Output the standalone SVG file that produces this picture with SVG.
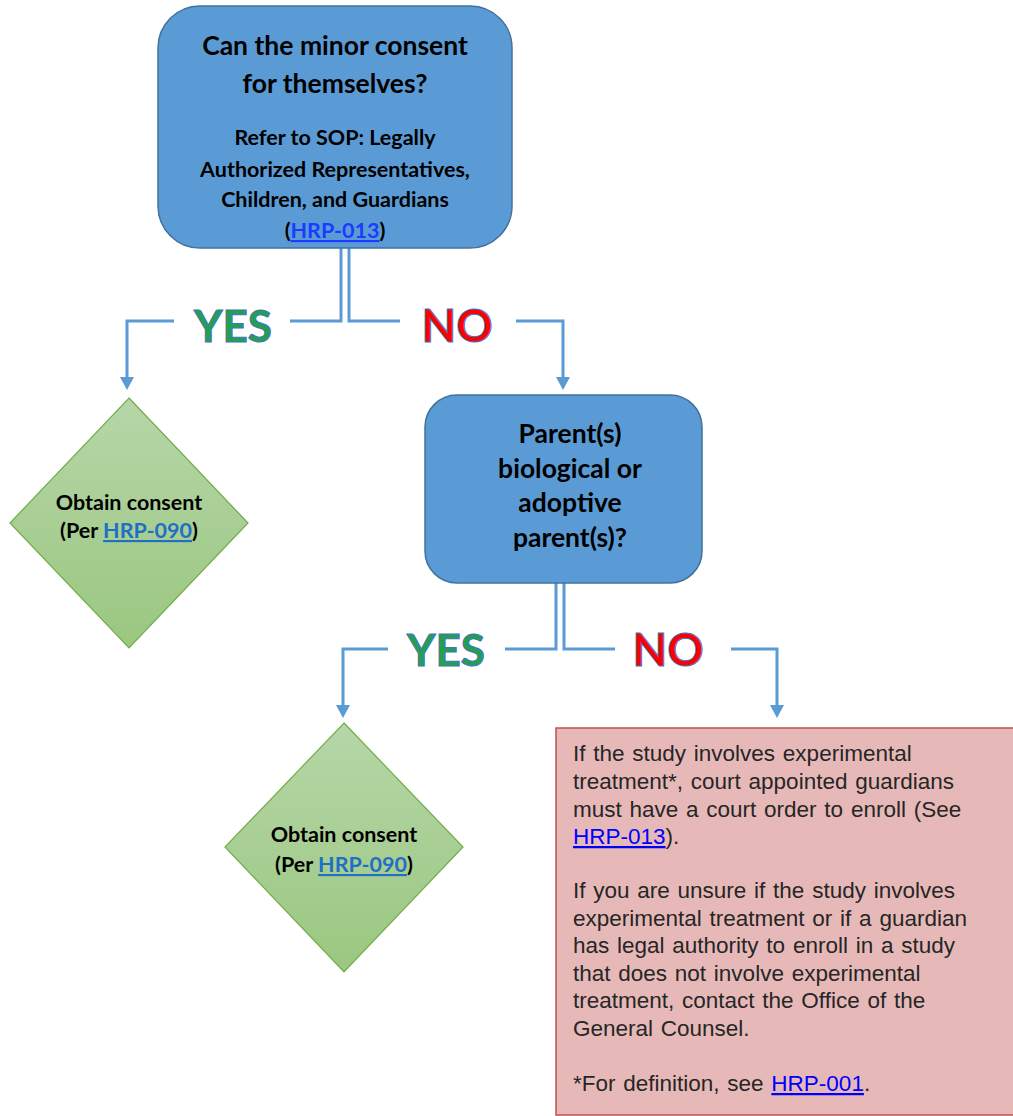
<svg xmlns="http://www.w3.org/2000/svg" width="1013" height="1116" viewBox="0 0 1013 1116">
<defs>
<linearGradient id="gGreen" x1="0" y1="0" x2="0" y2="1">
<stop offset="0" stop-color="#b6d6a8"/>
<stop offset="1" stop-color="#9bc780"/>
</linearGradient>
<marker id="arr" markerWidth="14" markerHeight="14" refX="9" refY="7" orient="auto" markerUnits="userSpaceOnUse" viewBox="0 0 14 14">
<path d="M0,0 L13,7 L0,14 Z" fill="#5b9bd5"/>
</marker>
</defs>
<style>
.bluebox{fill:#5b9bd5;stroke:#41719c;stroke-width:1.5}
.diamond{fill:url(#gGreen);stroke:#70ad47;stroke-width:1.2}
.redbox{fill:#e6b9b8;stroke:#c0504d;stroke-width:1.5}
.conn{fill:none;stroke:#5b9bd5;stroke-width:3}
.t{font-family:Lato,"Open Sans","Liberation Sans",sans-serif;font-weight:bold;fill:#000;text-anchor:middle}
.yes{font-family:Lato,"Liberation Sans",sans-serif;font-weight:bold;font-size:44px;fill:#22a04b;stroke:#4472c4;stroke-width:1;text-anchor:middle}
.no{font-family:Lato,"Liberation Sans",sans-serif;font-weight:bold;font-size:45px;fill:#ff0000;stroke:#4472c4;stroke-width:1;text-anchor:middle}
.r{font-family:"Liberation Sans",Arial,sans-serif;font-size:22.5px;fill:#262626;word-spacing:1.5px}
.lnk{fill:#0000ff;text-decoration:underline}
.lnk2{fill:#1f6fc5;text-decoration:underline}
</style>

<g id="connectors">
<path class="conn" d="M341,248 V321 H290"/>
<path class="conn" d="M174,321 H127 V386" marker-end="url(#arr)"/>
<path class="conn" d="M349,248 V321 H400"/>
<path class="conn" d="M516,321 H563 V386" marker-end="url(#arr)"/>
<path class="conn" d="M556,583 V649 H505"/>
<path class="conn" d="M388,649 H343 V714" marker-end="url(#arr)"/>
<path class="conn" d="M564,583 V649 H615"/>
<path class="conn" d="M731,649 H777 V714" marker-end="url(#arr)"/>
<text class="yes" x="233" y="342">YES</text>
<text class="no" x="457" y="342">NO</text>
<text class="yes" x="446" y="666">YES</text>
<text class="no" x="668" y="666">NO</text>
</g>

<g id="node-minor-consent">
<rect class="bluebox" x="158" y="6" width="354" height="242" rx="42" ry="42"/>
<text class="t" x="335" y="55" font-size="26.5">Can the minor consent</text>
<text class="t" x="335" y="93" font-size="26.5">for themselves?</text>
<text class="t" x="335" y="145" font-size="21.5">Refer to SOP: Legally</text>
<text class="t" x="335" y="177" font-size="21.5">Authorized Representatives,</text>
<text class="t" x="335" y="207" font-size="21.5">Children, and Guardians</text>
<text class="t" x="335" y="238" font-size="21.5">(<tspan fill="#1a3cff" text-decoration="underline">HRP-013</tspan>)</text>
</g>

<g id="node-obtain-consent-1">
<polygon class="diamond" points="129,398 248,523 129,648 10,523"/>
<text class="t" x="129" y="510" font-size="21.5">Obtain consent</text>
<text class="t" x="129" y="538" font-size="21.5">(Per <tspan class="lnk2">HRP-090</tspan>)</text>
</g>

<g id="node-parents">
<rect class="bluebox" x="425" y="395" width="277" height="188" rx="32" ry="32"/>
<text class="t" x="570" y="443" font-size="26.5">Parent(s)</text>
<text class="t" x="570" y="478" font-size="26.5">biological or</text>
<text class="t" x="570" y="512" font-size="26.5">adoptive</text>
<text class="t" x="570" y="547" font-size="26.5">parent(s)?</text>
</g>

<g id="node-obtain-consent-2">
<polygon class="diamond" points="344,723 463,847 344,972 225,847"/>
<text class="t" x="344" y="842" font-size="21.5">Obtain consent</text>
<text class="t" x="344" y="872" font-size="21.5">(Per <tspan class="lnk2">HRP-090</tspan>)</text>
</g>

<g id="node-guardian">
<rect class="redbox" x="556" y="728" width="470" height="387"/>
<text class="r" x="573" y="761">If the study involves experimental</text>
<text class="r" x="573" y="789">treatment*,  court appointed guardians</text>
<text class="r" x="573" y="817">must have a court order to enroll (See</text>
<text class="r" x="573" y="844"><tspan class="lnk">HRP-013</tspan>).</text>
<text class="r" x="573" y="898">If you are unsure if the study involves</text>
<text class="r" x="573" y="926">experimental treatment or if a guardian</text>
<text class="r" x="573" y="953">has legal authority to enroll in a study</text>
<text class="r" x="573" y="981">that does not involve experimental</text>
<text class="r" x="573" y="1008">treatment, contact the Office of the</text>
<text class="r" x="573" y="1036">General Counsel.</text>
<text class="r" x="573" y="1091">*For definition, see <tspan class="lnk">HRP-001</tspan>.</text>
</g>
</svg>
